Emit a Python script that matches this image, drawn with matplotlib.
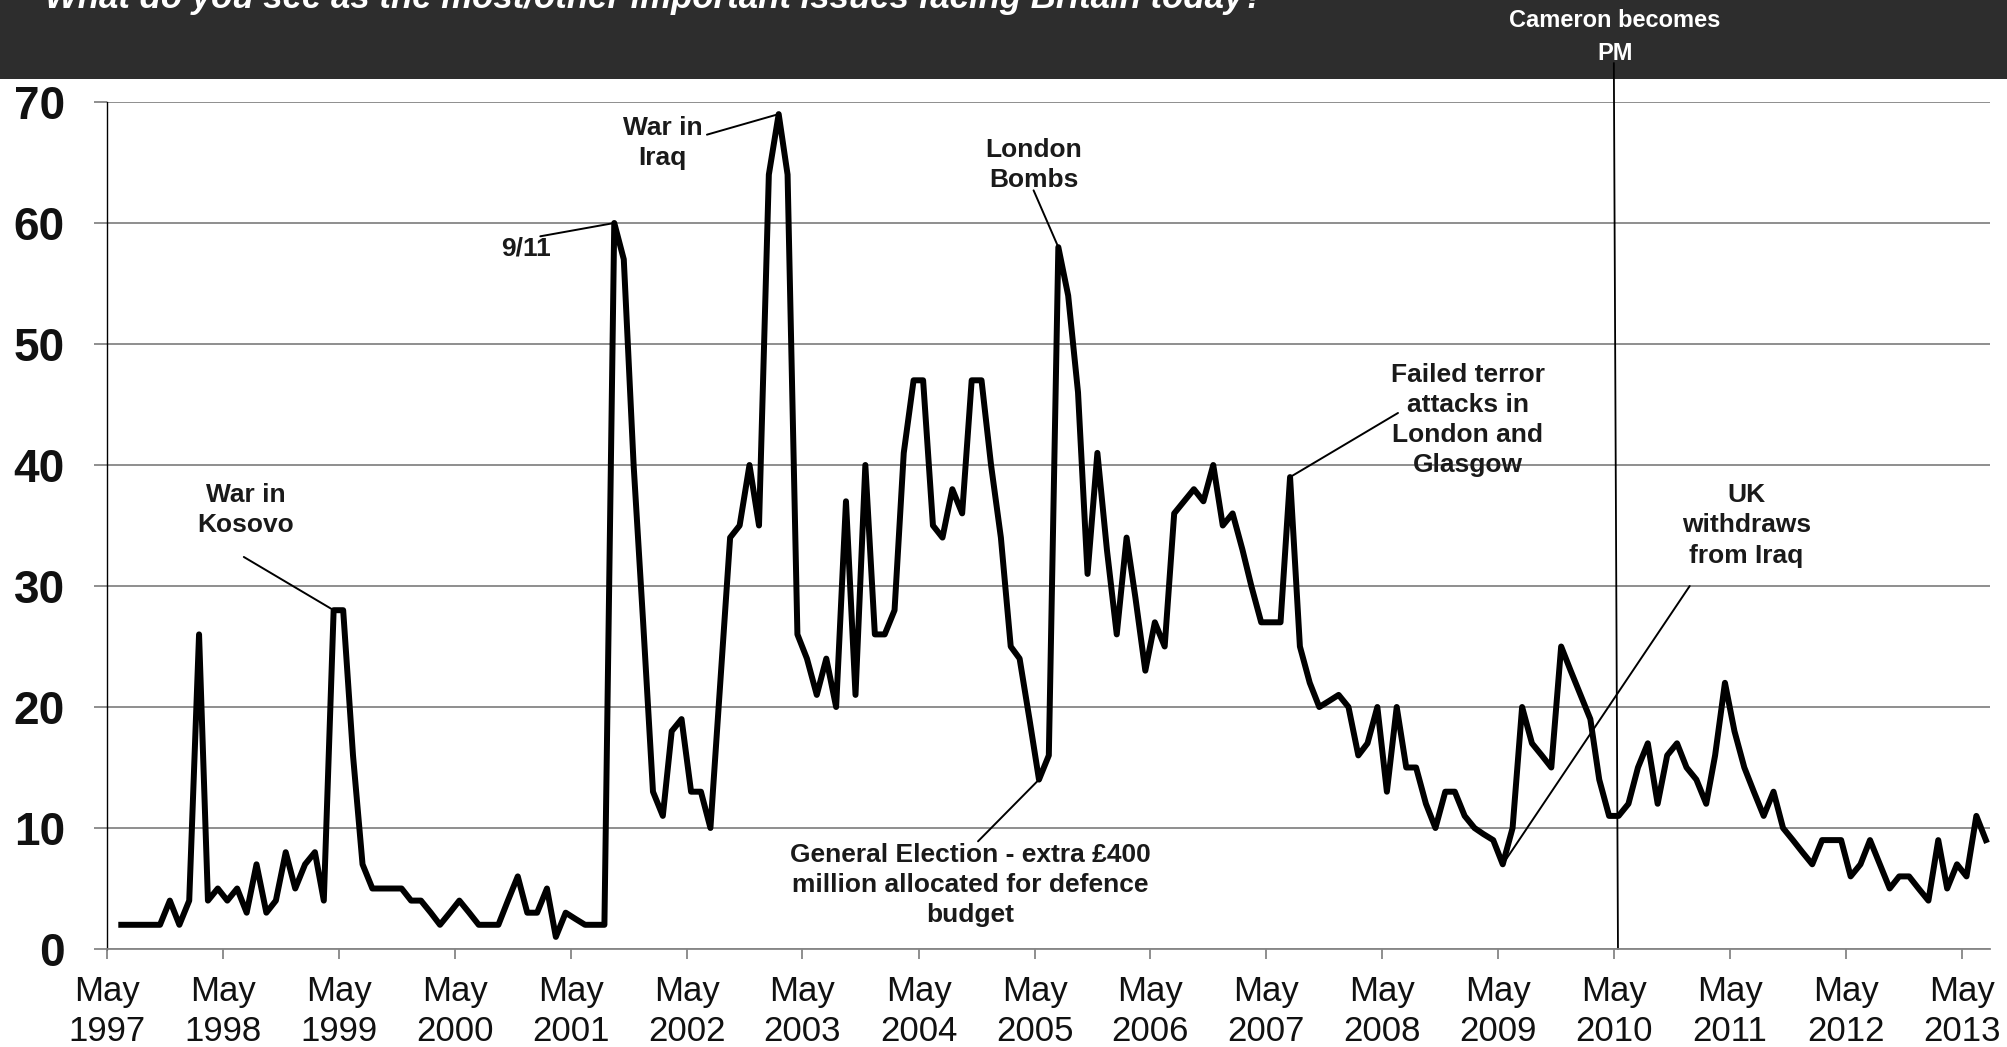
import numpy as np
import pandas as pd
import matplotlib
matplotlib.use('Agg')
import matplotlib.pyplot as plt
import matplotlib.dates as mdates
from matplotlib.patches import Rectangle

plt.rcParams['font.family'] = ['Liberation Sans', 'DejaVu Sans']

# ── data: % naming defence / terrorism as an important issue, monthly from June 1997 ──
TITLE = 'What do you see as the most/other important issues facing Britain today?'
START = '1997-06-01'
VALUES = [
    2, 2, 2, 2, 2, 4, 2, 4, 26, 4, 5, 4,            # Jun 97 - May 98
    5, 3, 7, 3, 4, 8, 5, 7, 8, 4, 28, 28,           # Jun 98 - May 99
    16, 7, 5, 5, 5, 5, 4, 4, 3, 2, 3, 4,            # Jun 99 - May 00
    3, 2, 2, 2, 4, 6, 3, 3, 5, 1, 3, 2.5,           # Jun 00 - May 01
    2, 2, 2, 60, 57, 40, 27, 13, 11, 18, 19, 13,    # Jun 01 - May 02
    13, 10, 22, 34, 35, 40, 35, 64, 69, 64, 26, 24, # Jun 02 - May 03
    21, 24, 20, 37, 21, 40, 26, 26, 28, 41, 47, 47, # Jun 03 - May 04
    35, 34, 38, 36, 47, 47, 40, 34, 25, 24, 19, 14, # Jun 04 - May 05
    16, 58, 54, 46, 31, 41, 33, 26, 34, 29, 23, 27, # Jun 05 - May 06
    25, 36, 37, 38, 37, 40, 35, 36, 33, 30, 27, 27, # Jun 06 - May 07
    27, 39, 25, 22, 20, 20.5, 21, 20, 16, 17, 20, 13,  # Jun 07 - May 08
    20, 15, 15, 12, 10, 13, 13, 11, 10, 9.5, 9, 7,  # Jun 08 - May 09
    10, 20, 17, 16, 15, 25, 23, 21, 19, 14, 11, 11, # Jun 09 - May 10
    12, 15, 17, 12, 16, 17, 15, 14, 12, 16, 22, 18, # Jun 10 - May 11
    15, 13, 11, 13, 10, 9, 8, 7, 9, 9, 9, 6,        # Jun 11 - May 12
    7, 9, 7, 5, 6, 6, 5, 4, 9, 5, 7, 6,             # Jun 12 - May 13
    11, 9,                                          # Jun 13 - Jul 13
]
DATES = pd.date_range(START, periods=len(VALUES), freq='MS') + pd.Timedelta(days=14)
YEARS = list(range(1997, 2014))
TICK_DATES = [pd.Timestamp(f'{y}-05-01') for y in YEARS]
TICK_LABELS = [f'May\n{y}' for y in YEARS]

# events: (label, label centre date, label centre value, leader start date, leader start value, index of point)
EVENTS = [
    ('War in\nKosovo', '1998-07-13', 36.3, '1998-07-06', 32.4, 22),
    ('9/11', '2000-12-10', 57.9, '2001-01-25', 58.9, 51),
    ('War in\nIraq', '2002-02-15', 66.6, '2002-07-04', 67.3, 68),
    ('London\nBombs', '2005-04-28', 64.8, '2005-04-28', 62.7, 97),
    ('General Election - extra £400\nmillion allocated for defence\nbudget', '2004-10-10', 5.3, '2004-11-04', 8.9, 95),
    ('Failed terror\nattacks in\nLondon and\nGlasgow', '2009-01-25', 43.7, '2008-06-19', 44.3, 121),
    ('UK\nwithdraws\nfrom Iraq', '2011-06-22', 35.0, '2010-12-25', 30.0, 143),
]

W, H = 2007, 1047
fig = plt.figure(figsize=(W / 100, H / 100), dpi=100)
fig.patch.set_facecolor('white')

# dark header band
fig.add_artist(Rectangle((0, 1 - 79 / H), 1, 79 / H, transform=fig.transFigure,
                         facecolor='#2d2d2d', edgecolor='none', zorder=0))
fig.text(45 / W, 1 - 8 / H, TITLE, color='white', fontsize=25, fontweight='bold',
         fontstyle='italic', ha='left', va='baseline')
fig.text(1615 / W, 1 - 37 / H, 'Cameron becomes\nPM', color='white', fontsize=17,
         fontweight='bold', ha='center', va='center', linespacing=1.6)

ax = fig.add_axes([107 / W, 1 - 949 / H, (1990 - 107) / W, (949 - 102) / H])
ax.plot(DATES, VALUES, color='black', lw=4.3, solid_joinstyle='round', zorder=3)

ax.set_ylim(0, 70)
ax.set_xlim(pd.Timestamp('1997-05-01'), pd.Timestamp('2013-07-28'))
ax.set_yticks(range(0, 71, 10))
ax.set_xticks(TICK_DATES)
ax.set_xticklabels(TICK_LABELS, fontsize=25, linespacing=1.3)
for lab in ax.get_yticklabels():
    lab.set_fontsize(33)
    lab.set_fontweight('bold')

ax.yaxis.grid(True, color='#868686', lw=1.3)
ax.set_axisbelow(True)
for s in ['top', 'right']:
    ax.spines[s].set_visible(False)
ax.spines['left'].set_color('black')
ax.spines['left'].set_linewidth(1.0)
ax.spines['bottom'].set_color('#868686')
ax.spines['bottom'].set_linewidth(1.3)
ax.tick_params(axis='y', length=9.4, width=1.3, color='#868686', pad=21, labelcolor='#111111')
ax.tick_params(axis='x', length=7.4, width=1.3, color='#868686', pad=11, labelcolor='#111111')

# Cameron becomes PM marker
ax.plot([pd.Timestamp('2010-04-30'), pd.Timestamp('2010-05-13')], [73.2, 0],
        color='black', lw=1.3, clip_on=False, zorder=2)

# event labels with leader lines
for label, tx, ty, lx, ly, i in EVENTS:
    ax.text(pd.Timestamp(tx), ty, label, fontsize=19, fontweight='bold', color='#1a1a1a',
            ha='center', va='center', linespacing=1.32, zorder=4)
    ax.annotate('', xy=(DATES[i], VALUES[i]), xytext=(pd.Timestamp(lx), ly),
                arrowprops=dict(arrowstyle='-', color='black', lw=1.4,
                                shrinkA=0, shrinkB=0), zorder=4)

fig.savefig('out.png', dpi=100)
